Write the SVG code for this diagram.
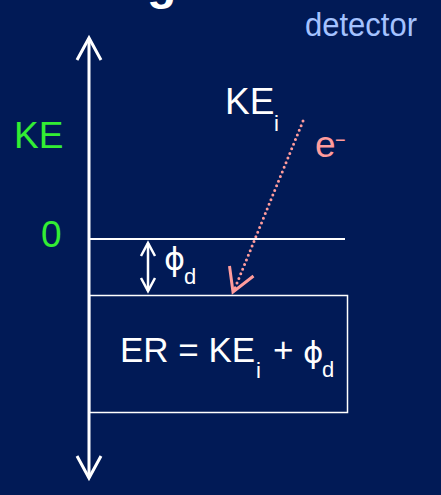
<svg xmlns="http://www.w3.org/2000/svg" width="441" height="495" viewBox="0 0 441 495">
<style>
text{font-family:"Liberation Sans",Arial,sans-serif}
.w{fill:#ffffff}
.g{fill:#33ee33}
.p{fill:#ff9c9c}
.ln{stroke:#ffffff;fill:none}
</style>
<rect x="0" y="0" width="441" height="495" fill="#011a56"/>
<text class="w" x="147" y="-1" font-size="48" font-weight="bold">g</text>
<g id="connectors">
<g id="ke-axis">
<line class="ln" x1="89" y1="38" x2="89" y2="478" stroke-width="3"/>
<polyline class="ln" points="77,60 89,38 101,60" stroke-width="3"/>
<polyline class="ln" points="77,456 89,478 101,456" stroke-width="3"/>
</g>
<g id="phi-arrow">
<line class="ln" x1="148" y1="243" x2="148" y2="291" stroke-width="2.5"/>
<polyline class="ln" points="141,256 148,243 155,256" stroke-width="2.5"/>
<polyline class="ln" points="141,278 148,291 155,278" stroke-width="2.5"/>
</g>
<g id="electron-arrow">
<line x1="303" y1="121" x2="235" y2="288" stroke="#ff9c9c" stroke-width="3" stroke-linecap="round" stroke-dasharray="0 5"/>
<polyline points="253.5,276 233,292 229.5,266" fill="none" stroke="#ff9c9c" stroke-width="3"/>
</g>
</g>
<g id="zero-level">
<line class="ln" x1="89" y1="239" x2="345" y2="239" stroke-width="2"/>
</g>
<g id="er-box">
<rect class="ln" x="89.5" y="295.5" width="258" height="117" stroke-width="1.5"/>
<text class="w" font-size="35"><tspan x="120" y="362">ER = KE</tspan><tspan x="256" y="378" font-size="22">i</tspan><tspan x="273" y="362">+</tspan><tspan x="303" y="363" font-family="DejaVu Sans" font-size="31">ϕ</tspan><tspan x="322" y="377" font-size="22">d</tspan></text>
</g>
<g id="labels">
<text class="g" x="14" y="148" font-size="37">KE</text>
<text class="g" x="41" y="247" font-size="37">0</text>
<text class="w" font-size="37"><tspan x="225" y="114">KE</tspan><tspan x="274" y="131" font-size="22">i</tspan></text>
<text class="p" font-size="37"><tspan x="315" y="157">e</tspan><tspan x="335" y="146" font-size="18">−</tspan></text>
<text class="w" font-size="32"><tspan x="164" y="270" font-family="DejaVu Sans">ϕ</tspan><tspan x="184" y="284" font-size="22">d</tspan></text>
<text x="305" y="36" font-size="33" fill="#a4c2ff" textLength="112" lengthAdjust="spacingAndGlyphs">detector</text>
</g>
</svg>
